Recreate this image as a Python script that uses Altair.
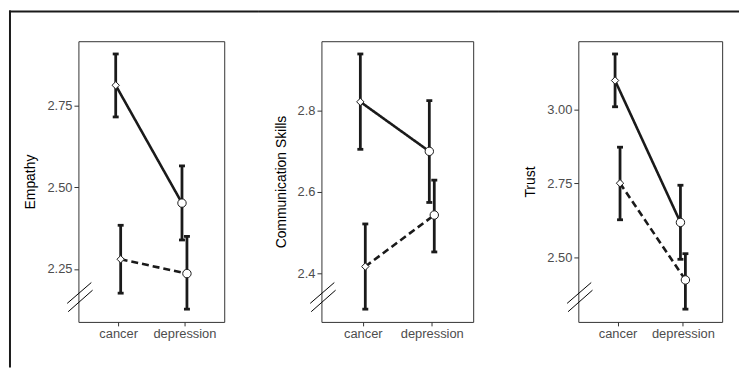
import altair as alt
import pandas as pd

conditions = ["cancer", "depression"]
groups = ["group 1", "group 2"]

# Empathy
emp_mean_1 = [2.813, 2.452]
emp_lo_1 = [2.716, 2.339]
emp_hi_1 = [2.909, 2.566]
emp_mean_2 = [2.280, 2.236]
emp_lo_2 = [2.176, 2.127]
emp_hi_2 = [2.384, 2.350]

# Communication Skills
com_mean_1 = [2.822, 2.700]
com_lo_1 = [2.705, 2.574]
com_hi_1 = [2.940, 2.825]
com_mean_2 = [2.416, 2.543]
com_lo_2 = [2.311, 2.452]
com_hi_2 = [2.521, 2.629]

# Trust
tru_mean_1 = [3.099, 2.618]
tru_lo_1 = [3.010, 2.493]
tru_hi_1 = [3.189, 2.744]
tru_mean_2 = [2.751, 2.423]
tru_lo_2 = [2.627, 2.324]
tru_hi_2 = [2.873, 2.512]

emp_ticks = [2.25, 2.50, 2.75]
com_ticks = [2.4, 2.6, 2.8]
tru_ticks = [2.50, 2.75, 3.00]

FONT = "Liberation Sans"
INK = "#1a1a1a"
PANEL_H = 283


def make_df(m1, lo1, hi1, m2, lo2, hi2):
    rows = []
    for g, (m, lo, hi) in zip(groups, [(m1, lo1, hi1), (m2, lo2, hi2)]):
        for c, a, b, d in zip(conditions, m, lo, hi):
            rows.append({"condition": c, "group": g, "mean": a, "lo": b, "hi": d})
    return pd.DataFrame(rows)


one = pd.DataFrame({"k": [0]})


def panel(df, title, ticks, fmt, width, top_seg, left_bar=False):
    lo_all = df["lo"].min()
    hi_all = df["hi"].max()
    rng = hi_all - lo_all
    dom = [lo_all - 0.05 * rng, hi_all + 0.05 * rng]
    x = alt.X("condition:N",
              scale=alt.Scale(type="point", padding=0.6, domain=conditions),
              axis=alt.Axis(title=None, labelAngle=0, labelFontSize=13, labelFont=FONT,
                            labelColor="#4d4d4d", tickColor="#333333", tickSize=4,
                            labelPadding=2, domain=False, grid=False))
    yscale = alt.Scale(domain=dom, nice=False, zero=False)
    yaxis = alt.Axis(values=ticks, format=fmt, title=title, titleFontSize=14,
                     titleFont=FONT, titleFontWeight="normal", titleColor="black",
                     labelFontSize=13, labelFont=FONT, labelColor="#4d4d4d",
                     tickColor="#333333", tickSize=4.5, labelPadding=2,
                     domain=False, grid=False, titlePadding=9)
    base = alt.Chart(df)
    layers = []
    specs = [(groups[0], -2.5, [1, 0]), (groups[1], 2.5, [7, 4])]
    for g, off, dash in specs:
        b = base.transform_filter(alt.datum.group == g)
        layers.append(b.mark_line(xOffset=off, strokeDash=dash, strokeWidth=2.6, color=INK).encode(
            x=x, y=alt.Y("mean:Q", scale=yscale, axis=yaxis)))
    for g, off, dash in specs:
        b = base.transform_filter(alt.datum.group == g)
        layers.append(b.mark_rule(xOffset=off, strokeWidth=2.8, color=INK).encode(
            x=x, y=alt.Y("lo:Q", scale=yscale, axis=yaxis), y2="hi:Q"))
        layers.append(b.mark_tick(xOffset=off, size=6, thickness=2.8, color=INK, opacity=1).encode(
            x=x, y=alt.Y("lo:Q", scale=yscale, axis=yaxis)))
        layers.append(b.mark_tick(xOffset=off, size=6, thickness=2.8, color=INK, opacity=1).encode(
            x=x, y=alt.Y("hi:Q", scale=yscale, axis=yaxis)))
    for g, off, dash in specs:
        b = base.transform_filter(alt.datum.group == g)
        layers.append(b.mark_point(xOffset=off, filled=True, fill="white", stroke=INK,
                                   strokeWidth=1, opacity=1).encode(
            x=x, y=alt.Y("mean:Q", scale=yscale, axis=yaxis),
            shape=alt.Shape("condition:N", scale=alt.Scale(domain=conditions, range=["diamond", "circle"]), legend=None),
            size=alt.Size("condition:N", scale=alt.Scale(domain=conditions, range=[55, 72]), legend=None)))
    # axis break marks
    for (x1, y1, x2, y2) in [(-11.3, 264.3, 13.0, 243.3), (-10.3, 272.7, 14.3, 251.0)]:
        layers.append(alt.Chart(one).mark_rule(color="black", strokeWidth=1).encode(
            x=alt.value(x1), y=alt.value(y1), x2=alt.value(x2), y2=alt.value(y2)))
    # outer frame pieces (filled rects, no stroke)
    layers.append(alt.Chart(one).mark_rect(color=INK, opacity=1).encode(
        x=alt.value(top_seg[0]), x2=alt.value(top_seg[1]), y=alt.value(-31), y2=alt.value(-29)))
    if left_bar:
        layers.append(alt.Chart(one).mark_rect(color=INK, opacity=1).encode(
            x=alt.value(-70), x2=alt.value(-68), y=alt.value(-31), y2=alt.value(329)))
    return alt.layer(*layers).properties(width=width, height=PANEL_H)


# panel origins on the page: 78, 321, 578 ; frame joins near page x 260 and 500
p1 = panel(make_df(emp_mean_1, emp_lo_1, emp_hi_1, emp_mean_2, emp_lo_2, emp_hi_2),
           "Empathy", emp_ticks, ".2f", 147, (-70, 182), left_bar=True)
p2 = panel(make_df(com_mean_1, com_lo_1, com_hi_1, com_mean_2, com_lo_2, com_hi_2),
           "Communication Skills", com_ticks, ".1f", 153, (-63, 179))
p3 = panel(make_df(tru_mean_1, tru_lo_1, tru_hi_1, tru_mean_2, tru_lo_2, tru_hi_2),
           "Trust", tru_ticks, ".2f", 145, (-80, 162))

chart = alt.hconcat(p1, p2, p3, spacing=-2, bounds="full").properties(
    padding=0
).configure_view(stroke="#333333", strokeWidth=1).resolve_scale(y="independent")

chart.save("out.html", embed_options={"renderer": "svg", "actions": False})
